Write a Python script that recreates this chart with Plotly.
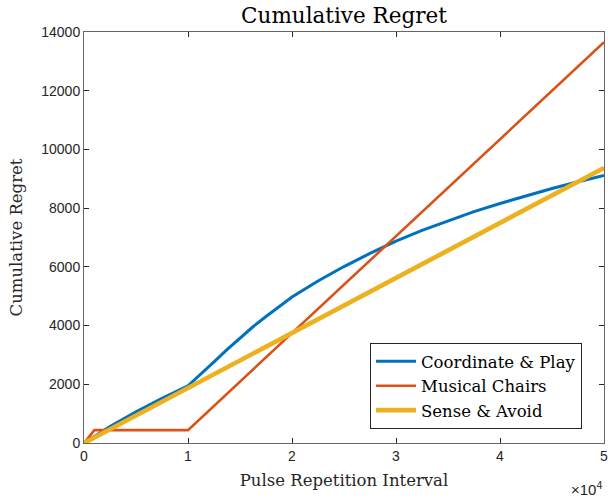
import plotly.graph_objects as go

# Data
x_cp = [0, 2500, 5000, 7500, 10000, 11250, 12500, 13750, 15000, 16250, 17500, 18750,
        20000, 22500, 25000, 27500, 30000, 32500, 35000, 37500, 40000, 42500,
        45000, 47500, 50000]
y_cp = [0, 560, 1060, 1520, 1950, 2340, 2760, 3180, 3580, 3960, 4310, 4650,
        4970, 5520, 6010, 6460, 6880, 7240, 7570, 7880, 8160, 8420,
        8670, 8900, 9110]

x_mc = [0, 1000, 10000, 50000]
y_mc = [0, 440, 440, 13650]

x_sa = [0, 50000]
y_sa = [0, 9370]

series_names = ["Coordinate & Play", "Musical Chairs", "Sense & Avoid"]
colors = ["#0072BD", "#D95319", "#EDB120"]
widths = [3, 2.6, 4.6]

x_tickvals = [0, 10000, 20000, 30000, 40000, 50000]
x_ticktext = ["0", "1", "2", "3", "4", "5"]
y_tickvals = [0, 2000, 4000, 6000, 8000, 10000, 12000, 14000]
y_ticktext = [str(v) for v in y_tickvals]

serif = "DejaVu Serif"
sans = "Liberation Sans"
axcol = "#262626"

fig = go.Figure()
for xs, ys, name, c, w in zip([x_cp, x_mc, x_sa], [y_cp, y_mc, y_sa], series_names, colors, widths):
    fig.add_trace(go.Scatter(x=xs, y=ys, mode="lines", name=name,
                             line=dict(color=c, width=w)))

fig.update_layout(
    width=608, height=500,
    margin=dict(l=84, r=4, t=32, b=57, autoexpand=False),
    paper_bgcolor="white", plot_bgcolor="white",
    title=dict(text="Cumulative Regret", x=0.5, xref="paper", xanchor="center",
               y=1, yref="paper", yanchor="bottom", pad=dict(b=9),
               font=dict(family=serif, size=21.5, color="black")),
    showlegend=True,
    legend=dict(x=0.55, xanchor="left", y=0.034, yanchor="bottom",
                bgcolor="white", bordercolor=axcol, borderwidth=1,
                font=dict(family=serif, size=16.5, color="black"),
                itemwidth=40, tracegroupgap=0),
    xaxis=dict(range=[0, 50000], tickvals=x_tickvals, ticktext=x_ticktext,
               ticks="inside", ticklen=5, tickcolor=axcol, showline=True, linecolor="#666",
               linewidth=1, mirror="ticks", showgrid=False, zeroline=False, automargin=False,
               ticklabeloverflow="allow",
               tickfont=dict(family=sans, size=14, color=axcol),
               title=dict(text="Pulse Repetition Interval", standoff=11,
                          font=dict(family=serif, size=16.5, color=axcol))),
    yaxis=dict(range=[0, 14000], tickvals=y_tickvals, ticktext=y_ticktext,
               ticks="inside", ticklen=5, tickcolor=axcol, showline=True, linecolor="#666",
               linewidth=1, mirror="ticks", showgrid=False, zeroline=False, automargin=False,
               ticklabeloverflow="allow",
               tickfont=dict(family=sans, size=14, color=axcol),
               title=dict(text="Cumulative Regret", standoff=14,
                          font=dict(family=serif, size=16.5, color=axcol))),
)

fig.add_annotation(text="×10<sup>4</sup>", xref="paper", yref="paper", x=1.0, y=-0.11,
                   xanchor="right", yanchor="middle", showarrow=False,
                   font=dict(family=sans, size=15, color=axcol))

fig.write_html("out.html", config={"displayModeBar": False},
               post_script="document.body.style.margin='0px';")
